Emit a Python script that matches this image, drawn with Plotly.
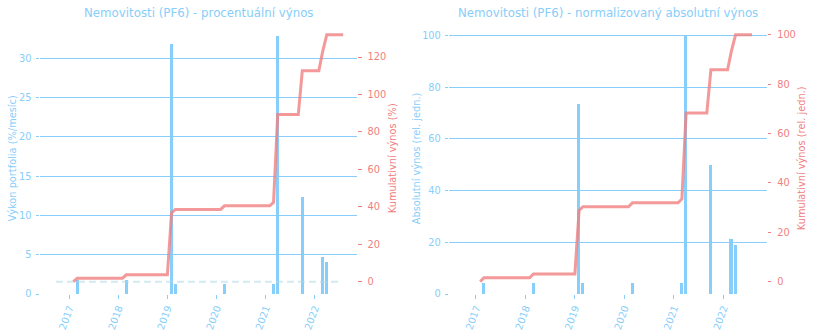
import numpy as np
import pandas as pd
import plotly.graph_objects as go

# Monthly results of the real-estate portfolio (PF6)
bar_dates = ["2017-03-01", "2018-03-01", "2019-02-01", "2019-03-01", "2020-03-01",
             "2021-03-01", "2021-04-01", "2021-10-01", "2022-03-01", "2022-04-01"]
pct_return = [1.85, 1.8, 31.9, 1.36, 1.36, 1.36, 32.9, 12.4, 4.72, 4.08]   # % per month
abs_return = [4.5, 4.5, 73.6, 4.5, 4.5, 4.5, 100.0, 50.0, 21.5, 19.2]      # relative units

# Monthly grid on which the cumulative curves are evaluated
line_start, line_end = "2017-02-01", "2022-08-01"
# Reference (zero) line under the cumulative curve
zero_line_dates = ["2016-09-24", "2022-07-05"]
zero_line_vals = [0, 0]

year_ticks = ["2017-01-01", "2018-01-01", "2019-01-01", "2020-01-01", "2021-01-01", "2022-01-01"]
year_labels = ["2017", "2018", "2019", "2020", "2021", "2022"]

# --- cumulative series -------------------------------------------------------
months = pd.date_range(line_start, line_end, freq="MS")
bd = pd.to_datetime(bar_dates)
pct = np.array(pct_return)
ab = np.array(abs_return)
cum_pct = []
cum_abs = []
for m in months:
    sel = bd <= m
    cum_pct.append((np.prod(1 + pct[sel] / 100.0) - 1) * 100.0)
    cum_abs.append(ab[sel].sum())
cum_pct = np.array(cum_pct)
cum_abs = np.array(cum_abs) / ab.sum() * 100.0

# --- styling -----------------------------------------------------------------
W, H = 815, 336
BLUE = "#87CEFA"
CORAL = "#F08080"
LINE = "rgba(240,128,128,0.8)"
DASH = "rgba(173,216,230,0.55)"
FONT = "DejaVu Sans"
TICK = 9.8
BAR_W = 23 * 86400000  # bar width in ms

plot_top, plot_bot = 22.5, 294.0
ydom = [(H - plot_bot) / H, (H - plot_top) / H]
left_px = [40.0, 357.0]
right_px = [449.3, 766.7]

fig = go.Figure()

# Left panel: percentage return
fig.add_trace(go.Bar(x=bar_dates, y=pct_return, width=BAR_W, marker_color=BLUE,
                     marker_line_width=0, xaxis="x", yaxis="y", showlegend=False))
fig.add_trace(go.Scatter(x=zero_line_dates, y=zero_line_vals, mode="lines",
                         line=dict(color=DASH, width=2, dash="7px,4px"),
                         xaxis="x", yaxis="y2", showlegend=False))
fig.add_trace(go.Scatter(x=months, y=cum_pct, mode="lines",
                         line=dict(color=LINE, width=3),
                         xaxis="x", yaxis="y2", showlegend=False))

# Right panel: normalised absolute return
fig.add_trace(go.Bar(x=bar_dates, y=abs_return, width=BAR_W, marker_color=BLUE,
                     marker_line_width=0, xaxis="x2", yaxis="y3", showlegend=False))
fig.add_trace(go.Scatter(x=months, y=cum_abs, mode="lines",
                         line=dict(color=LINE, width=3),
                         xaxis="x2", yaxis="y4", showlegend=False))


def xax(px, rng, anchor):
    return dict(domain=[px[0] / W, px[1] / W], type="date", range=rng, anchor=anchor,
                tickvals=year_ticks, ticktext=year_labels, tickangle=-70,
                ticks="outside", ticklen=3.5, tickwidth=1, tickcolor=BLUE,
                tickfont=dict(color=BLUE, size=TICK, family=FONT),
                showgrid=False, zeroline=False, showline=False, automargin=False)


def yleft(rng, dtick, anchor):
    return dict(domain=ydom, range=rng, dtick=dtick, tick0=0, anchor=anchor,
                ticks="outside", ticklen=3.5, tickwidth=1, tickcolor=BLUE,
                ticklabelstandoff=2,
                tickfont=dict(color=BLUE, size=TICK, family=FONT),
                showgrid=True, gridcolor=BLUE, gridwidth=1,
                zeroline=False, showline=False, automargin=False)


def yright(rng, dtick, anchor, over):
    return dict(range=rng, dtick=dtick, tick0=0, anchor=anchor, overlaying=over, side="right",
                ticks="outside", ticklen=3.5, tickwidth=1, tickcolor=CORAL,
                ticklabelstandoff=4,
                tickfont=dict(color=CORAL, size=TICK, family=FONT),
                showgrid=False, zeroline=False, showline=False, automargin=False)


pmax = max(pct_return)
cmax = cum_pct.max()
amax = max(abs_return)
camax = cum_abs.max()

fig.update_layout(
    width=W, height=H,
    margin=dict(l=0, r=0, t=0, b=0),
    paper_bgcolor="white", plot_bgcolor="white",
    font=dict(family=FONT, color=BLUE),
    bargap=0,
    xaxis=xax(left_px, ["2016-05-28", "2022-11-12"], "y"),
    yaxis=yleft([0, pmax * 1.05], 5, "x"),
    yaxis2=yright([-0.05 * cmax, 1.05 * cmax], 20, "x", "y"),
    xaxis2=xax(right_px, ["2016-06-18", "2022-11-17"], "y3"),
    yaxis3=yleft([0, amax * 1.05], 20, "x2"),
    yaxis4=yright([-0.05 * camax, 1.05 * camax], 20, "x2", "y3"),
)

ymid = 1 - (plot_top + plot_bot) / 2 / H
annots = [
    dict(text="Nemovitosti (PF6) - procentuální výnos", x=(left_px[0] + left_px[1]) / 2 / W,
         y=1 - 13 / H, font=dict(size=11.8, color=BLUE, family=FONT), textangle=0),
    dict(text="Nemovitosti (PF6) - normalizovaný absolutní výnos", x=(right_px[0] + right_px[1]) / 2 / W,
         y=1 - 13 / H, font=dict(size=11.8, color=BLUE, family=FONT), textangle=0),
    dict(text="Výkon portfolia (%/mesíc)", x=12 / W, y=ymid,
         font=dict(size=9.8, color=BLUE, family=FONT), textangle=-90),
    dict(text="Kumulativní výnos (%)", x=392 / W, y=ymid,
         font=dict(size=9.8, color=CORAL, family=FONT), textangle=-90),
    dict(text="Absolutní výnos (rel. jedn.)", x=416 / W, y=ymid,
         font=dict(size=9.8, color=BLUE, family=FONT), textangle=-90),
    dict(text="Kumulativní výnos (rel. jedn.)", x=801 / W, y=ymid,
         font=dict(size=9.8, color=CORAL, family=FONT), textangle=-90),
]
for a in annots:
    a.update(xref="paper", yref="paper", showarrow=False, xanchor="center", yanchor="middle")
fig.update_layout(annotations=annots)

fig.write_html("out.html")
